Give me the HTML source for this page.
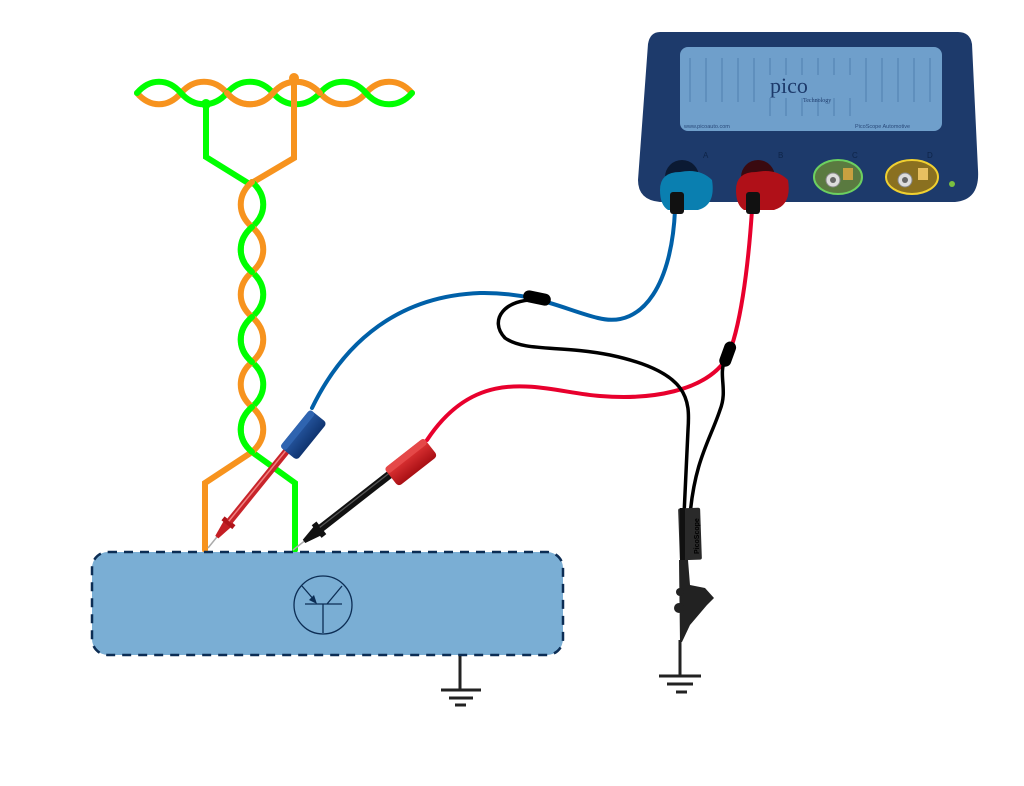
<!DOCTYPE html>
<html><head><meta charset="utf-8"><style>
html,body{margin:0;padding:0;background:#fff;width:1024px;height:786px;overflow:hidden}
svg{display:block}
</style></head><body>
<svg width="1024" height="786" viewBox="0 0 1024 786" xmlns="http://www.w3.org/2000/svg">
<defs>
<linearGradient id="hb" x1="0" y1="0" x2="0" y2="1"><stop offset="0" stop-color="#2a5ca8"/><stop offset="1" stop-color="#0f3470"/></linearGradient>
<linearGradient id="hr" x1="0" y1="0" x2="0" y2="1"><stop offset="0" stop-color="#e83a3a"/><stop offset="1" stop-color="#a80f14"/></linearGradient>
</defs>

<!-- horizontal twisted pair -->
<path id="hg" fill="none" stroke="#00ff00" stroke-width="6" stroke-linecap="round" d=""/>
<g fill="none" stroke-width="6" stroke-linecap="round">
<path stroke="#f7931e" d="M137 93 C150 108,168 108,181 93 C194 78,214 78,227 93 C240 108,260 108,273 93 C286 78,306 78,320 93 C333 108,353 108,366 93 C379 78,399 78,412 93"/>
<path stroke="#00ff00" d="M137 93 C150 78,168 78,181 93 C194 108,214 108,227 93 C240 78,260 78,273 93 C286 108,306 108,320 93 C333 78,353 78,366 93 C379 108,399 108,412 93"/>
<path stroke="#f7931e" d="M227 93 C240 108,260 108,273 93 C286 78,306 78,320 93"/>
<path stroke="#00ff00" d="M206 104 L206 157 L248 183"/>
<path stroke="#f7931e" d="M294 78 L294 158 L250 184"/>
<!-- vertical twist -->
<path stroke="#00ff00" d="M252 182 C267 195,267 214,252 227 C237 240,237 259,252 272 C267 285,267 304,252 317 C237 330,237 349,252 362 C267 375,267 394,252 407 C237 420,237 439,252 452 L295 483 L295 550"/>
<path stroke="#f7931e" d="M252 182 C237 195,237 214,252 227 C267 240,267 259,252 272 C237 285,237 304,252 317 C267 330,267 349,252 362 C237 375,237 394,252 407 C267 420,267 439,252 452 L205 483 L205 550"/>
<path stroke="#00ff00" d="M252 227 C237 240,237 259,252 272 M252 317 C237 330,237 349,252 362 M252 407 C237 420,237 439,252 452"/>
</g>
<circle cx="206" cy="104" r="5" fill="#00ff00"/>
<circle cx="294" cy="78" r="5" fill="#f7931e"/>

<!-- component box -->
<rect x="92" y="552" width="471" height="103" rx="16" fill="#7aaed4" stroke="#0c2d54" stroke-width="2.5" stroke-dasharray="9 7"/>
<g fill="none" stroke="#0c2d54" stroke-width="1.3">
<circle cx="323" cy="605" r="29"/>
<path d="M305 604 L342 604 M323 604 L323 633 M327 604 L342 586 M302 586 L315 601"/>
</g>
<path d="M317 604 L309 600 L314 595 Z" fill="#0c2d54"/>

<!-- grounds -->
<g stroke="#222" stroke-width="3">
<path d="M460 656 L460 690 M441 690 L481 690 M449 698 L473 698"/>
<path d="M455 705 L466 705"/>
<path d="M680 640 L680 676 M659 676 L701 676 M667 684 L693 684 M676 692 L687 692"/>
</g>

<!-- cables -->
<g fill="none" stroke-linecap="round">
<path stroke="#0060a8" stroke-width="4" d="M675 210 C672 280,645 330,598 318 C565 310,535 292,480 293 C400 296,345 340,312 408"/>
<path stroke="#e8002d" stroke-width="4" d="M752 210 C748 270,740 330,727 358 C705 392,650 400,600 396 C545 392,480 360,427 440"/>
<path stroke="#000" stroke-width="3.5" d="M538 300 C505 298,488 320,505 338 C525 352,560 345,610 355 C690 372,690 400,688 430 L684 515"/>
<path stroke="#000" stroke-width="3.5" d="M725 360 C718 375,728 390,720 410 C710 440,695 460,690 515"/>
</g>
<!-- ferrules -->
<rect x="523" y="292" width="28" height="12" rx="6" fill="#000" transform="rotate(12 537 298)"/>
<rect x="716" y="350" width="26" height="12" rx="6" fill="#000" transform="rotate(-70 727 356)"/>

<!-- ground clip -->
<rect x="679" y="508" width="22" height="52" rx="2" fill="#2a2a2a" transform="rotate(-2 690 534)"/>
<rect x="680" y="508" width="5" height="52" fill="#111"/>
<text x="0" y="0" font-family="Liberation Sans, sans-serif" font-size="7" font-weight="bold" fill="#000" transform="translate(699 554) rotate(-90)">PicoScope</text>
<path d="M679 560 L688 560 L690 585 L705 588 L714 598 L707 605 L690 625 L682 642 L680 642 Z" fill="#222"/>
<circle cx="680" cy="592" r="4" fill="#222"/>
<circle cx="679" cy="608" r="5" fill="#222"/>

<!-- blue probe (tip 208,548, angle -51) -->
<g transform="translate(208 548) rotate(-51)">
<line x1="0" y1="0" x2="14" y2="0" stroke="#aaa" stroke-width="1.5"/>
<path d="M14 -2 L32 -5 L32 5 L14 2 Z" fill="#c41e24"/>
<rect x="30" y="-7" width="5" height="14" fill="#b0141a"/>
<rect x="34" y="-3.5" width="94" height="7" fill="#c8242a"/>
<rect x="34" y="-1.5" width="94" height="1.5" fill="#f08080"/>
<rect x="124" y="-8" width="48" height="22" rx="4" fill="url(#hb)"/>
<rect x="124" y="-8" width="48" height="7" rx="3" fill="#2f64b0"/>
</g>

<!-- black probe (tip 293,550, angle -38) -->
<g transform="translate(293 550) rotate(-38)">
<line x1="0" y1="0" x2="14" y2="0" stroke="#aaa" stroke-width="1.5"/>
<path d="M14 -2 L32 -6 L32 6 L14 2 Z" fill="#111"/>
<rect x="30" y="-8" width="6" height="16" fill="#111"/>
<rect x="35" y="-4" width="90" height="8" fill="#111"/>
<rect x="35" y="-2" width="90" height="1.3" fill="#555"/>
<rect x="122" y="-8" width="50" height="23" rx="4" fill="url(#hr)"/>
<rect x="122" y="-8" width="50" height="7" rx="3" fill="#e54848"/>
</g>

<!-- oscilloscope -->
<path d="M660 32 L958 32 Q970 32 972 44 L978 170 Q980 200 955 202 L660 202 Q638 200 638 180 L648 44 Q650 32 660 32 Z" fill="#1d3a6b"/>
<rect x="680" y="47" width="262" height="84" rx="8" fill="#6f9fcb"/>
<g stroke="#5f8fbd" stroke-width="2">
<path d="M690 58 V102 M706 58 V102 M722 58 V102 M738 58 V102 M754 58 V102 M770 58 V75 M786 58 V75 M802 58 V75 M818 58 V75 M834 58 V75 M850 58 V75 M866 58 V102 M882 58 V102 M898 58 V102 M914 58 V102 M930 58 V102"/>
<path d="M770 98 V116 M786 98 V116 M802 98 V116 M818 98 V116 M834 98 V116 M850 98 V116"/>
</g>
<text x="770" y="93" font-family="Liberation Serif, serif" font-size="22" fill="#1d3a6b">pico</text>
<text x="803" y="102" font-family="Liberation Serif, serif" font-size="6" fill="#1d3a6b">Technology</text>
<text x="684" y="128" font-family="Liberation Sans, sans-serif" font-size="5.5" fill="#2a4a7a">www.picoauto.com</text>
<text x="855" y="128" font-family="Liberation Sans, sans-serif" font-size="5.5" fill="#2a4a7a">PicoScope Automotive</text>
<g font-family="Liberation Sans, sans-serif" font-size="8" fill="#0e2448">
<text x="703" y="158">A</text><text x="778" y="158">B</text><text x="852" y="158">C</text><text x="927" y="158">D</text></g>
<!-- connectors -->
<circle cx="682" cy="177" r="17" fill="#0b1a33"/>
<path d="M660 190 Q660 172 680 172 Q700 168 712 180 Q716 205 698 210 L668 210 Q660 205 660 190 Z" fill="#0a7fb0"/>
<rect x="670" y="192" width="14" height="22" rx="3" fill="#111"/>
<circle cx="758" cy="177" r="17" fill="#3a0a10"/>
<path d="M736 190 Q736 172 756 172 Q776 168 788 180 Q792 205 774 210 L744 210 Q736 205 736 190 Z" fill="#b01018"/>
<rect x="746" y="192" width="14" height="22" rx="3" fill="#111"/>
<ellipse cx="838" cy="177" rx="24" ry="17" fill="#5a7a40" stroke="#6cd060" stroke-width="2"/>
<circle cx="833" cy="180" r="7" fill="#ddd" stroke="#888"/><circle cx="833" cy="180" r="3" fill="#666"/>
<rect x="843" y="168" width="10" height="12" fill="#c8a040"/>
<ellipse cx="912" cy="177" rx="26" ry="17" fill="#8a7020" stroke="#f0d030" stroke-width="2"/>
<circle cx="905" cy="180" r="7" fill="#ddd" stroke="#888"/><circle cx="905" cy="180" r="3" fill="#666"/>
<rect x="918" y="168" width="10" height="12" fill="#e8c060"/>
<circle cx="952" cy="184" r="3" fill="#7ac040"/>
</svg>
</body></html>
